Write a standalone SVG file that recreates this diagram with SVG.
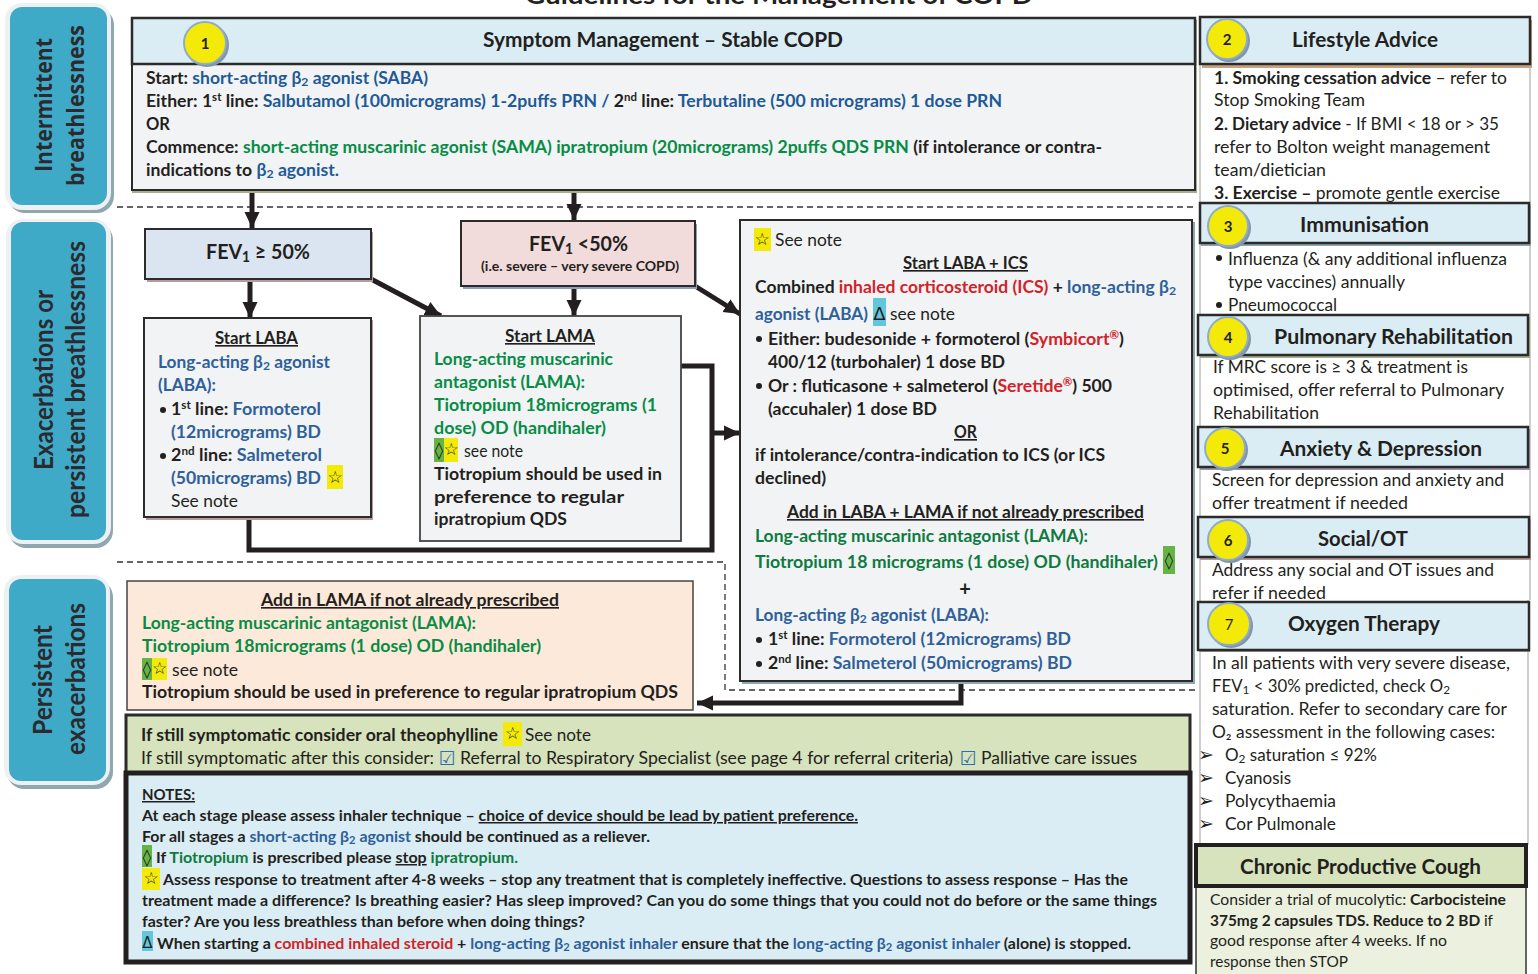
<svg xmlns="http://www.w3.org/2000/svg" width="1538" height="974" viewBox="0 0 1538 974">
<style>
text{font-family:"Lato","Carlito","Liberation Sans",sans-serif;font-size:16.5px;fill:#231f20;font-weight:700}
.n{font-weight:400}
.c{text-anchor:middle}
.u{text-decoration:underline}
.h{font-size:21px}
.f{font-size:21px}
.s{font-family:"Open Sans","Liberation Sans",sans-serif;font-size:24px;font-weight:700;fill:#2b2a2e}
.s2{font-family:"Lato",sans-serif;font-size:26px;font-weight:700;fill:#2b2a2e}
.sy{font-family:"DejaVu Sans",sans-serif;font-weight:700;font-size:17px;text-anchor:middle}
.ar{font-family:"DejaVu Sans",sans-serif;font-weight:400;font-size:19px;text-anchor:middle}
.num{font-size:15px;text-anchor:middle}
tspan.bl{fill:#1f5a96}
tspan.lb{fill:#2f6099}
tspan.gr{fill:#078c46}
tspan.dg{fill:#0e7a40}
tspan.rd{fill:#d2232a}
text.bl{fill:#1f5a96}
text.lb{fill:#2f6099}
text.gr{fill:#078c46}
text.dg{fill:#0e7a40}
.sb{font-size:70%;baseline-shift:-0.2em}
.sp{font-size:65%;baseline-shift:0.55em}
.box{stroke:#2b2b2b;stroke-width:2}
.hd{fill:#daedf4;stroke:#2b2b2b;stroke-width:2.5}
.body{fill:#f1f3f5}
.dot{fill:#f4ea0a;stroke:#8fabcc;stroke-width:2}
.dsh{fill:#8196a8}
.yl{fill:#f4ea0a}
.gn{fill:#66b445}
.cy{fill:#62c7da}
.teal{fill:#3fa9c8}
.glow{fill:#eef1f3}
.pshd{fill:#8fa8b0}
.lane{fill:none;stroke:#c0c0c0;stroke-width:1.5}
.ln{fill:none;stroke:#231f20;stroke-width:5}
.dash{fill:none;stroke:#333;stroke-width:1.3;stroke-dasharray:6 4}
</style>
<defs>
<marker id="ah" markerUnits="userSpaceOnUse" markerWidth="18" markerHeight="18" refX="16" refY="9" orient="auto"><path d="M0 1.500L16 9L0 16.500z" fill="#231f20"/></marker>
</defs>

<text class="c" x="779" y="4" style="font-size:25px" textLength="508" lengthAdjust="spacingAndGlyphs">Guidelines for the Management of COPD</text>

<g id="lane-intermittent">
<rect class="pshd" x="8" y="8" width="106" height="205" rx="17"/><rect class="glow" x="5" y="3" width="106" height="207" rx="17"/><rect class="teal" x="10" y="7" width="97" height="198" rx="12"/>
<text class="s" transform="translate(52,172) rotate(-90)" textLength="134" lengthAdjust="spacingAndGlyphs">Intermittent</text>
<text class="s" transform="translate(84,186) rotate(-90)" textLength="161" lengthAdjust="spacingAndGlyphs">breathlessness</text>
</g>
<g id="lane-exacerbations">
<rect class="pshd" x="9" y="223" width="104" height="325" rx="17"/><rect class="glow" x="6" y="219" width="105" height="325" rx="17"/><rect class="teal" x="11" y="222" width="95" height="318" rx="12"/>
<text class="s2" transform="translate(53,470) rotate(-90)" textLength="180" lengthAdjust="spacingAndGlyphs">Exacerbations or</text>
<text class="s2" transform="translate(85,518) rotate(-90)" textLength="277" lengthAdjust="spacingAndGlyphs">persistent breathlessness</text>
</g>
<g id="lane-persistent">
<rect class="pshd" x="7" y="580" width="106" height="209" rx="17"/><rect class="glow" x="4" y="575" width="106" height="210" rx="17"/><rect class="teal" x="9" y="579" width="97" height="202" rx="12"/>
<text class="s2" transform="translate(52,735) rotate(-90)" textLength="110" lengthAdjust="spacingAndGlyphs">Persistent</text>
<text class="s2" transform="translate(85,755) rotate(-90)" textLength="152" lengthAdjust="spacingAndGlyphs">exacerbations</text>
</g>

<g id="dashes">
<path class="dash" d="M117 207H1195"/>
<path class="dash" d="M117 562H725V690H1195"/>
<path class="lane" d="M1200 64V974M1530 64V600M1528 600V845"/>
</g>

<g id="connectors">
<path class="ln" d="M252 190V228" marker-end="url(#ah)"/>
<path class="ln" d="M574 190V220" marker-end="url(#ah)"/>
<path class="ln" d="M250 279V318" marker-end="url(#ah)"/>
<path class="ln" d="M574 286V316" marker-end="url(#ah)"/>
<path class="ln" d="M371 279L441 316" marker-end="url(#ah)"/>
<path class="ln" d="M695 286L740 314" marker-end="url(#ah)"/>
<path class="ln" d="M249 517V550H712V366H681"/>
<path class="ln" d="M712 433H740" marker-end="url(#ah)"/>
<path class="ln" d="M961 681V703H697" marker-end="url(#ah)"/>
</g>

<g id="n1">
<rect x="132" y="20" width="1065" height="173" fill="#a6b08f"/>
<rect class="body box" x="132" y="64" width="1063" height="126"/>
<rect class="hd" x="132" y="18" width="1063" height="46"/>
<circle class="dsh" cx="207" cy="45" r="22"/><circle class="dot" cx="205" cy="43" r="21"/>
<text class="num" x="205" y="49">1</text>
<text class="h" x="483" y="47" textLength="360" lengthAdjust="spacingAndGlyphs">Symptom Management – Stable COPD</text>
<text x="146" y="84" textLength="282" lengthAdjust="spacingAndGlyphs">Start: <tspan class="bl">short-acting β<tspan class="sb">2</tspan> agonist (SABA)</tspan></text>
<text x="146" y="107" textLength="856" lengthAdjust="spacingAndGlyphs">Either: 1<tspan class="sp">st</tspan> line: <tspan class="bl">Salbutamol (100micrograms) 1-2puffs PRN / </tspan>2<tspan class="sp">nd</tspan> line: <tspan class="bl">Terbutaline (500 micrograms) 1 dose PRN</tspan></text>
<text x="146" y="130" textLength="24" lengthAdjust="spacingAndGlyphs">OR</text>
<text x="146" y="153" textLength="956" lengthAdjust="spacingAndGlyphs">Commence: <tspan class="gr">short-acting muscarinic agonist (SAMA) ipratropium (20micrograms) 2puffs QDS PRN</tspan> (if intolerance or contra-</text>
<text x="146" y="176" textLength="193" lengthAdjust="spacingAndGlyphs">indications to <tspan class="bl">β<tspan class="sb">2</tspan> agonist.</tspan></text>
</g>

<g id="fev-high">
<rect x="147" y="232" width="226" height="50" fill="#b89a9a"/>
<rect class="box" x="145" y="229" width="226" height="50" fill="#dbe5f1"/>
<text class="f" x="206" y="259" textLength="104" lengthAdjust="spacingAndGlyphs">FEV<tspan class="sb">1</tspan> ≥ 50%</text>
</g>
<g id="fev-low">
<rect x="463" y="224" width="234" height="65" fill="#8fa0b5"/>
<rect class="box" x="461" y="221" width="234" height="65" fill="#f2dbdb"/>
<text class="f" x="529" y="251" textLength="99" lengthAdjust="spacingAndGlyphs">FEV<tspan class="sb">1</tspan> &lt;50%</text>
<text x="481" y="271" style="font-size:13px" textLength="198" lengthAdjust="spacingAndGlyphs">(i.e. severe – very severe COPD)</text>
</g>

<g id="start-laba">
<rect x="146" y="320" width="227" height="200" fill="#b89a9a"/>
<rect class="body box" x="144" y="318" width="227" height="199"/>
<text class="u" x="215" y="344" textLength="83" lengthAdjust="spacingAndGlyphs">Start LABA</text>
<text class="lb" x="158" y="368" textLength="172" lengthAdjust="spacingAndGlyphs">Long-acting β<tspan class="sb">2</tspan> agonist</text>
<text class="lb" x="158" y="391" textLength="58" lengthAdjust="spacingAndGlyphs">(LABA):</text>
<circle cx="163" cy="410" r="3" fill="#231f20"/>
<text x="171" y="415" textLength="150" lengthAdjust="spacingAndGlyphs">1<tspan class="sp">st</tspan> line: <tspan class="lb">Formoterol</tspan></text>
<text class="lb" x="171" y="438" textLength="150" lengthAdjust="spacingAndGlyphs">(12micrograms) BD</text>
<circle cx="163" cy="456" r="3" fill="#231f20"/>
<text x="171" y="461" textLength="151" lengthAdjust="spacingAndGlyphs">2<tspan class="sp">nd</tspan> line: <tspan class="lb">Salmeterol</tspan></text>
<text class="lb" x="171" y="484" textLength="150" lengthAdjust="spacingAndGlyphs">(50micrograms) BD</text>
<rect class="yl" x="327" y="465" width="16" height="24"/><text class="sy" x="335" y="483">☆</text>
<text class="n" x="171" y="507" textLength="67" lengthAdjust="spacingAndGlyphs">See note</text>
</g>

<g id="start-lama">
<rect class="body" x="420" y="316" width="261" height="225" stroke="#444" stroke-width="1.800"/>
<text class="u" x="505" y="342" textLength="90" lengthAdjust="spacingAndGlyphs">Start LAMA</text>
<text class="gr" x="434" y="365" textLength="179" lengthAdjust="spacingAndGlyphs">Long-acting muscarinic</text>
<text class="gr" x="434" y="388" textLength="151" lengthAdjust="spacingAndGlyphs">antagonist (LAMA):</text>
<text class="gr" x="434" y="411" textLength="223" lengthAdjust="spacingAndGlyphs">Tiotropium 18micrograms (1</text>
<text class="gr" x="434" y="434" textLength="172" lengthAdjust="spacingAndGlyphs">dose) OD (handihaler)</text>
<rect class="gn" x="434" y="438" width="10" height="24"/><rect class="yl" x="444" y="438" width="14" height="24"/>
<text class="sy" x="439" y="456">◊</text><text class="sy" x="451" y="455">☆</text>
<text class="n" x="464" y="457" textLength="59" lengthAdjust="spacingAndGlyphs">see note</text>
<text x="434" y="480" textLength="228" lengthAdjust="spacingAndGlyphs">Tiotropium should be used in</text>
<text x="434" y="503" textLength="190" lengthAdjust="spacingAndGlyphs">preference to regular</text>
<text x="434" y="525" textLength="133" lengthAdjust="spacingAndGlyphs">ipratropium QDS</text>
</g>

<g id="laba-ics">
<rect x="742" y="222" width="453" height="462" fill="#8fa8b0"/>
<rect class="body box" x="740" y="220" width="452" height="461"/>
<rect class="yl" x="754" y="228" width="17" height="23"/><text class="sy" x="762" y="245">☆</text>
<text class="n" x="775" y="246" textLength="67" lengthAdjust="spacingAndGlyphs">See note</text>
<text class="u" x="903" y="269" textLength="125" lengthAdjust="spacingAndGlyphs">Start LABA + ICS</text>
<text x="755" y="293" textLength="421" lengthAdjust="spacingAndGlyphs">Combined <tspan class="rd">inhaled corticosteroid (ICS)</tspan> + <tspan class="lb">long-acting β<tspan class="sb">2</tspan></tspan></text>
<text class="lb" x="755" y="320" textLength="113" lengthAdjust="spacingAndGlyphs">agonist (LABA)</text>
<rect class="cy" x="873" y="298" width="13" height="28"/><text class="sy" x="879.500" y="320" style="font-size:18px;font-weight:400">Δ</text>
<text class="n" x="890" y="320" textLength="65" lengthAdjust="spacingAndGlyphs">see note</text>
<circle cx="759" cy="339" r="3" fill="#231f20"/>
<text x="768" y="345" textLength="356" lengthAdjust="spacingAndGlyphs">Either: budesonide + formoterol (<tspan class="rd">Symbicort<tspan class="sp">®</tspan></tspan>)</text>
<text x="768" y="368" textLength="237" lengthAdjust="spacingAndGlyphs">400/12 (turbohaler) 1 dose BD</text>
<circle cx="759" cy="386" r="3" fill="#231f20"/>
<text x="768" y="392" textLength="344" lengthAdjust="spacingAndGlyphs">Or : fluticasone + salmeterol (<tspan class="rd">Seretide<tspan class="sp">®</tspan></tspan>) 500</text>
<text x="768" y="415" textLength="169" lengthAdjust="spacingAndGlyphs">(accuhaler) 1 dose BD</text>
<text class="u" x="954" y="438" textLength="23" lengthAdjust="spacingAndGlyphs">OR</text>
<text x="755" y="461" textLength="350" lengthAdjust="spacingAndGlyphs">if intolerance/contra-indication to ICS (or ICS</text>
<text x="755" y="484" textLength="71" lengthAdjust="spacingAndGlyphs">declined)</text>
<text class="u" x="787" y="518" textLength="357" lengthAdjust="spacingAndGlyphs">Add in LABA + LAMA if not already prescribed</text>
<text class="dg" x="755" y="542" textLength="333" lengthAdjust="spacingAndGlyphs">Long-acting muscarinic antagonist (LAMA):</text>
<text class="dg" x="755" y="568" textLength="403" lengthAdjust="spacingAndGlyphs">Tiotropium 18 micrograms (1 dose) OD (handihaler)</text>
<rect class="gn" x="1163" y="546" width="12" height="28"/><text class="sy" x="1169" y="566">◊</text>
<text class="c" x="965" y="596" style="font-size:20px">+</text>
<text class="lb" x="755" y="621" textLength="234" lengthAdjust="spacingAndGlyphs">Long-acting β<tspan class="sb">2</tspan> agonist (LABA):</text>
<circle cx="759" cy="640" r="3" fill="#231f20"/>
<text x="768" y="645" textLength="303" lengthAdjust="spacingAndGlyphs">1<tspan class="sp">st</tspan> line: <tspan class="lb">Formoterol (12micrograms) BD</tspan></text>
<circle cx="759" cy="664" r="3" fill="#231f20"/>
<text x="768" y="669" textLength="304" lengthAdjust="spacingAndGlyphs">2<tspan class="sp">nd</tspan> line: <tspan class="lb">Salmeterol (50micrograms) BD</tspan></text>
</g>

<g id="add-lama">
<rect x="127" y="581" width="566" height="129" fill="#fde9d9" stroke="#444" stroke-width="1.500"/>
<text class="u" x="261" y="606" textLength="298" lengthAdjust="spacingAndGlyphs">Add in LAMA if not already prescribed</text>
<text class="gr" x="142" y="629" textLength="334" lengthAdjust="spacingAndGlyphs">Long-acting muscarinic antagonist (LAMA):</text>
<text class="gr" x="142" y="652" textLength="399" lengthAdjust="spacingAndGlyphs">Tiotropium 18micrograms (1 dose) OD (handihaler)</text>
<rect class="gn" x="142" y="658" width="10" height="22"/><rect class="yl" x="152" y="658" width="15" height="22"/>
<text class="sy" x="147" y="675">◊</text><text class="sy" x="159.500" y="674">☆</text>
<text class="n" x="172" y="676" textLength="66" lengthAdjust="spacingAndGlyphs">see note</text>
<text x="142" y="698" textLength="536" lengthAdjust="spacingAndGlyphs">Tiotropium should be used in preference to regular ipratropium QDS</text>
</g>

<g id="theophylline">
<rect x="126" y="715" width="1064" height="58" fill="#d6e3bc" stroke="#2b2b2b" stroke-width="3"/>
<text x="141" y="741" textLength="357" lengthAdjust="spacingAndGlyphs">If still symptomatic consider oral theophylline</text>
<rect class="yl" x="503" y="722" width="19" height="24"/><text class="sy" x="512.500" y="739">☆</text>
<text class="n" x="525" y="741" textLength="66" lengthAdjust="spacingAndGlyphs">See note</text>
<text class="n" x="141" y="764" textLength="293" lengthAdjust="spacingAndGlyphs">If still symptomatic after this consider:</text>
<text class="sy" x="447" y="765" style="font-size:19px;font-weight:400;fill:#2f6db0">☑</text>
<text class="n" x="460" y="764" textLength="493" lengthAdjust="spacingAndGlyphs">Referral to Respiratory Specialist (see page 4 for referral criteria)</text>
<text class="sy" x="968" y="765" style="font-size:19px;font-weight:400;fill:#2f6db0">☑</text>
<text class="n" x="981" y="764" textLength="156" lengthAdjust="spacingAndGlyphs">Palliative care issues</text>
</g>

<g id="notes">
<rect x="126" y="773" width="1064" height="189" fill="#daedf4" stroke="#231f20" stroke-width="5"/>
<text class="u" x="142" y="800" style="font-size:15px" textLength="53" lengthAdjust="spacingAndGlyphs">NOTES:</text>
<text x="142" y="821" style="font-size:15px" textLength="716" lengthAdjust="spacingAndGlyphs">At each stage please assess inhaler technique – <tspan class="u">choice of device should be lead by patient preference.</tspan></text>
<text x="142" y="842" style="font-size:15px" textLength="508" lengthAdjust="spacingAndGlyphs">For all stages a <tspan class="lb">short-acting β<tspan class="sb">2</tspan> agonist</tspan> should be continued as a reliever.</text>
<rect class="gn" x="142" y="845" width="10" height="22"/><text class="sy" x="147" y="863">◊</text>
<text x="156" y="863" style="font-size:15px" textLength="362" lengthAdjust="spacingAndGlyphs">If <tspan class="dg">Tiotropium</tspan> is prescribed please <tspan class="u">stop</tspan> <tspan class="dg">ipratropium.</tspan></text>
<rect class="yl" x="142" y="868" width="18" height="22"/><text class="sy" x="151" y="884">☆</text>
<text x="163" y="885" style="font-size:15px" textLength="965" lengthAdjust="spacingAndGlyphs">Assess response to treatment after 4-8 weeks – stop any treatment that is completely ineffective. Questions to assess response – Has the</text>
<text x="142" y="906" style="font-size:15px" textLength="1015" lengthAdjust="spacingAndGlyphs">treatment made a difference? Is breathing easier? Has sleep improved? Can you do some things that you could not do before or the same things</text>
<text x="142" y="927" style="font-size:15px" textLength="443" lengthAdjust="spacingAndGlyphs">faster? Are you less breathless than before when doing things?</text>
<rect class="cy" x="142" y="931" width="11" height="20"/><text class="sy" x="147.500" y="948" style="font-size:15px;font-weight:400">Δ</text>
<text x="157" y="949" style="font-size:15px" textLength="974" lengthAdjust="spacingAndGlyphs">When starting a <tspan class="rd">combined inhaled steroid</tspan> + <tspan class="lb">long-acting β<tspan class="sb">2</tspan> agonist inhaler</tspan> ensure that the <tspan class="lb">long-acting β<tspan class="sb">2</tspan> agonist inhaler</tspan> (alone) is stopped.</text>
</g>

<g id="n2">
<rect x="1202" y="20" width="330" height="48" fill="#c9a27e"/>
<rect class="hd" x="1200" y="17" width="330" height="47"/>
<circle class="dsh" cx="1229" cy="41" r="21"/><circle class="dot" cx="1227" cy="39" r="20"/>
<text class="num" x="1227" y="45">2</text>
<text class="h" x="1292" y="47" textLength="146" lengthAdjust="spacingAndGlyphs">Lifestyle Advice</text>
<text x="1214" y="84" textLength="293" lengthAdjust="spacingAndGlyphs">1. Smoking cessation advice <tspan class="n">– refer to</tspan></text>
<text class="n" x="1214" y="106" textLength="151" lengthAdjust="spacingAndGlyphs">Stop Smoking Team</text>
<text x="1214" y="130" textLength="285" lengthAdjust="spacingAndGlyphs">2. Dietary advice <tspan class="n">- If BMI &lt; 18 or &gt; 35</tspan></text>
<text class="n" x="1214" y="153" textLength="276" lengthAdjust="spacingAndGlyphs">refer to Bolton weight management</text>
<text class="n" x="1214" y="176" textLength="112" lengthAdjust="spacingAndGlyphs">team/dietician</text>
<text x="1214" y="199" textLength="286" lengthAdjust="spacingAndGlyphs">3. Exercise – <tspan class="n">promote gentle exercise</tspan></text>
</g>
<g id="n3">
<rect x="1201" y="205" width="330" height="41" fill="#8fa8b0"/>
<rect class="hd" x="1200" y="203" width="329" height="40"/>
<circle class="dsh" cx="1230" cy="228" r="21"/><circle class="dot" cx="1228" cy="226" r="20"/>
<text class="num" x="1228" y="232">3</text>
<text class="h" x="1300" y="232" textLength="129" lengthAdjust="spacingAndGlyphs">Immunisation</text>
<circle cx="1219" cy="258" r="3" fill="#231f20"/>
<text class="n" x="1228" y="265" textLength="279" lengthAdjust="spacingAndGlyphs">Influenza (&amp; any additional influenza</text>
<text class="n" x="1228" y="288" textLength="177" lengthAdjust="spacingAndGlyphs">type vaccines) annually</text>
<circle cx="1219" cy="305" r="3" fill="#231f20"/>
<text class="n" x="1228" y="311" textLength="109" lengthAdjust="spacingAndGlyphs">Pneumococcal</text>
</g>
<g id="n4">
<rect x="1200" y="317" width="330" height="41" fill="#a6b08f"/>
<rect class="hd" x="1198" y="315" width="330" height="40"/>
<circle class="dsh" cx="1230" cy="339" r="21"/><circle class="dot" cx="1228" cy="337" r="20"/>
<text class="num" x="1228" y="343">4</text>
<text class="h" x="1274" y="344" textLength="239" lengthAdjust="spacingAndGlyphs">Pulmonary Rehabilitation</text>
<text class="n" x="1213" y="373" textLength="255" lengthAdjust="spacingAndGlyphs">If MRC score is ≥ 3 &amp; treatment is</text>
<text class="n" x="1213" y="396" textLength="291" lengthAdjust="spacingAndGlyphs">optimised, offer referral to Pulmonary</text>
<text class="n" x="1213" y="419" textLength="106" lengthAdjust="spacingAndGlyphs">Rehabilitation</text>
</g>
<g id="n5">
<rect x="1200" y="429" width="330" height="41" fill="#9c94ad"/>
<rect class="hd" x="1198" y="427" width="330" height="40"/>
<circle class="dsh" cx="1227" cy="450" r="21"/><circle class="dot" cx="1225" cy="448" r="20"/>
<text class="num" x="1225" y="454">5</text>
<text class="h" x="1280" y="456" textLength="202" lengthAdjust="spacingAndGlyphs">Anxiety &amp; Depression</text>
<text class="n" x="1212" y="486" textLength="292" lengthAdjust="spacingAndGlyphs">Screen for depression and anxiety and</text>
<text class="n" x="1212" y="509" textLength="196" lengthAdjust="spacingAndGlyphs">offer treatment if needed</text>
</g>
<g id="n6">
<rect x="1200" y="519" width="331" height="41" fill="#b89a9a"/>
<rect class="hd" x="1198" y="517" width="331" height="40"/>
<circle class="dsh" cx="1230" cy="542" r="21"/><circle class="dot" cx="1228" cy="540" r="20"/>
<text class="num" x="1228" y="546">6</text>
<text class="h" x="1318" y="546" textLength="90" lengthAdjust="spacingAndGlyphs">Social/OT</text>
<text class="n" x="1212" y="576" textLength="282" lengthAdjust="spacingAndGlyphs">Address any social and OT issues and</text>
<text class="n" x="1212" y="599" textLength="114" lengthAdjust="spacingAndGlyphs">refer if needed</text>
</g>
<g id="n7">
<rect x="1199" y="604" width="331" height="48" fill="#9a9a9a"/>
<rect class="hd" x="1198" y="602" width="331" height="48"/>
<circle class="dsh" cx="1231" cy="626" r="22"/><circle class="dot" cx="1229" cy="624" r="21"/>
<text class="num n" x="1229" y="630">7</text>
<text class="h" x="1288" y="631" textLength="152" lengthAdjust="spacingAndGlyphs">Oxygen Therapy</text>
<text class="n" x="1212" y="669" textLength="298" lengthAdjust="spacingAndGlyphs">In all patients with very severe disease,</text>
<text class="n" x="1212" y="692" textLength="238" lengthAdjust="spacingAndGlyphs">FEV<tspan class="sb">1</tspan> &lt; 30% predicted, check O<tspan class="sb">2</tspan></text>
<text class="n" x="1212" y="715" textLength="295" lengthAdjust="spacingAndGlyphs">saturation. Refer to secondary care for</text>
<text class="n" x="1212" y="738" textLength="283" lengthAdjust="spacingAndGlyphs">O₂ assessment in the following cases:</text>
<text class="ar" x="1206" y="761">➢</text>
<text class="n" x="1225" y="761" textLength="152" lengthAdjust="spacingAndGlyphs">O<tspan class="sb">2</tspan> saturation ≤ 92%</text>
<text class="ar" x="1206" y="784">➢</text>
<text class="n" x="1225" y="784" textLength="66" lengthAdjust="spacingAndGlyphs">Cyanosis</text>
<text class="ar" x="1206" y="807">➢</text>
<text class="n" x="1225" y="807" textLength="111" lengthAdjust="spacingAndGlyphs">Polycythaemia</text>
<text class="ar" x="1206" y="830">➢</text>
<text class="n" x="1225" y="830" textLength="111" lengthAdjust="spacingAndGlyphs">Cor Pulmonale</text>
</g>
<g id="cough">
<rect x="1196" y="886" width="330" height="90" fill="#ebf1de" stroke="#333" stroke-width="1.500"/>
<rect x="1196" y="845" width="330" height="41" fill="#d6e3bc" stroke="#231f20" stroke-width="4"/>
<text class="h" x="1240" y="874" textLength="241" lengthAdjust="spacingAndGlyphs">Chronic Productive Cough</text>
<text class="n" x="1210" y="905" style="font-size:15.500px" textLength="296" lengthAdjust="spacingAndGlyphs">Consider a trial of mucolytic: <tspan style="font-weight:700">Carbocisteine</tspan></text>
<text x="1210" y="926" style="font-size:15.500px" textLength="283" lengthAdjust="spacingAndGlyphs">375mg 2 capsules TDS. Reduce to 2 BD <tspan class="n">if</tspan></text>
<text class="n" x="1210" y="946" style="font-size:15.500px" textLength="237" lengthAdjust="spacingAndGlyphs">good response after 4 weeks. If no</text>
<text class="n" x="1210" y="967" style="font-size:15.500px" textLength="138" lengthAdjust="spacingAndGlyphs">response then STOP</text>
</g>
</svg>
